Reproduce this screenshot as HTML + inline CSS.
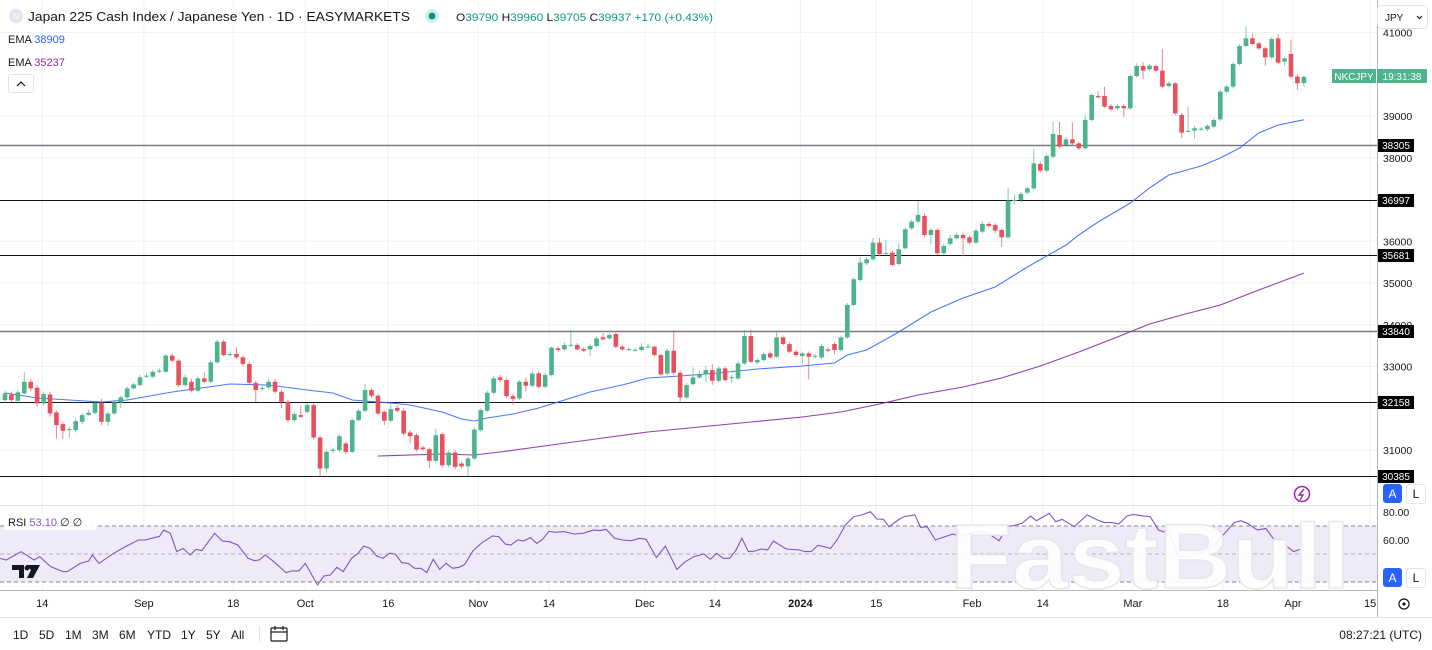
<!DOCTYPE html>
<html><head><meta charset="utf-8"><style>
html,body{margin:0;padding:0;background:#fff;width:1432px;height:650px;overflow:hidden;font-family:"Liberation Sans",sans-serif;}
svg{display:block}
text{font-family:"Liberation Sans",sans-serif}
</style></head><body>
<svg id="chart" width="1432" height="650" viewBox="0 0 1432 650" xmlns="http://www.w3.org/2000/svg">
<rect x="0" y="0" width="1432" height="650" fill="#ffffff"/>
<g id="grid"></g>
<g id="rsiPanel"></g>
<text x="950" y="588" font-size="92" font-weight="bold" textLength="400" lengthAdjust="spacingAndGlyphs" fill="#ffffff" stroke="#e6e6ea" stroke-width="1.5" opacity="0.92">FastBull</text>
<g id="levels"></g>
<g id="emas"></g>
<g id="candles"></g>
<g id="axes"></g>
<g id="ui">
  <circle cx="16" cy="16" r="7" fill="#e0e3eb"/>
  <text x="16" y="19.5" font-size="9" fill="#fff" text-anchor="middle">N</text>
  <text x="28" y="21" font-size="13" fill="#131722" textLength="382" lengthAdjust="spacingAndGlyphs">Japan 225 Cash Index / Japanese Yen · 1D · EASYMARKETS</text>
  <circle cx="432" cy="16" r="7" fill="#d6f0ea"/>
  <circle cx="432" cy="16" r="3.5" fill="#089981"/>
  <text x="456" y="21" font-size="11" fill="#089981" textLength="257" lengthAdjust="spacingAndGlyphs"><tspan fill="#131722">O</tspan>39790 <tspan fill="#131722">H</tspan>39960 <tspan fill="#131722">L</tspan>39705 <tspan fill="#131722">C</tspan>39937 +170 (+0.43%)</text>
  <text x="8" y="43" font-size="11" fill="#131722">EMA <tspan fill="#2962ff">38909</tspan></text>
  <text x="8" y="66" font-size="11" fill="#131722">EMA <tspan fill="#9c27b0">35237</tspan></text>
  <rect x="8.5" y="74.5" width="25" height="18" rx="2" fill="#fff" stroke="#e0e3eb"/>
  <path d="M17 86 L21 82 L25 86" fill="none" stroke="#131722" stroke-width="1.2"/>
  <rect x="1377.5" y="5.5" width="50" height="23" rx="4" fill="#fff" stroke="#e0e3eb"/>
  <text x="1385" y="21" font-size="10" fill="#131722">JPY</text>
  <path d="M1417 16 L1419.5 18.5 L1422 16" fill="none" stroke="#131722" stroke-width="1.2"/>
  <rect x="1332" y="69" width="44" height="14" fill="#4cb38a"/>
  <text x="1354" y="80" font-size="10" fill="#fff" text-anchor="middle">NKCJPY</text>
  <rect x="1377" y="69" width="50" height="14" fill="#4cb38a"/>
  <text x="1402" y="80" font-size="10" fill="#fff" text-anchor="middle">19:31:38</text>
  <circle cx="1302" cy="494" r="7.5" fill="none" stroke="#9c27b0" stroke-width="1.5"/>
  <path d="M1304 489 L1299 495 L1303 495 L1300 500" fill="none" stroke="#9c27b0" stroke-width="1.4"/>
  <rect x="1383" y="484" width="19" height="19" rx="3" fill="#2962ff"/>
  <text x="1392.5" y="498" font-size="12" fill="#fff" text-anchor="middle">A</text>
  <rect x="1406.5" y="484.5" width="19" height="19" rx="3" fill="#fff" stroke="#e0e3eb"/>
  <text x="1416" y="498" font-size="12" fill="#131722" text-anchor="middle">L</text>
  <rect x="1383" y="568" width="19" height="19" rx="3" fill="#2962ff"/>
  <text x="1392.5" y="582" font-size="12" fill="#fff" text-anchor="middle">A</text>
  <rect x="1406.5" y="568.5" width="19" height="19" rx="3" fill="#fff" stroke="#e0e3eb"/>
  <text x="1416" y="582" font-size="12" fill="#131722" text-anchor="middle">L</text>
  <rect x="4" y="513" width="92" height="17" fill="#ffffff" opacity="0.85"/>
  <text x="8" y="526" font-size="11" fill="#131722">RSI <tspan fill="#7e57c2">53.10</tspan> <tspan fill="#131722">∅ ∅</tspan></text>
  <path d="M12 565 H24 V578 H19 V570 H12 Z M26 565 H40 L33 578 H27 L31 570 Z" fill="#131722"/>
  <circle cx="27" cy="568" r="2.5" fill="#131722"/>
  <line x1="0" y1="617.5" x2="1432" y2="617.5" stroke="#e0e3eb"/>
  <g font-size="12" fill="#131722">
    <text x="13" y="639">1D</text>
    <text x="39" y="639">5D</text>
    <text x="65" y="639">1M</text>
    <text x="92" y="639">3M</text>
    <text x="119" y="639">6M</text>
    <text x="147" y="639">YTD</text>
    <text x="181" y="639">1Y</text>
    <text x="206" y="639">5Y</text>
    <text x="231" y="639">All</text>
  </g>
  <line x1="259.5" y1="626" x2="259.5" y2="642" stroke="#e0e3eb"/>
  <g fill="none" stroke="#131722" stroke-width="1.2">
    <rect x="271" y="628" width="16" height="13" rx="1"/>
    <line x1="271" y1="632" x2="287" y2="632"/>
    <line x1="275" y1="626" x2="275" y2="630"/>
    <line x1="283" y1="626" x2="283" y2="630"/>
  </g>
  <text x="1422" y="639" font-size="12" fill="#131722" text-anchor="end">08:27:21 (UTC)</text>
  <circle cx="1404" cy="604" r="5" fill="none" stroke="#131722" stroke-width="1.2"/>
  <circle cx="1404" cy="604" r="1.6" fill="#131722"/>
</g>
</svg>
<script>
// ---------- DATA ----------
const opens=[32195,32330,32180,32355,32635,32490,32115,32330,31900,31620,31490,31475,31675,31835,31890,32130,31675,31875,32140,32260,32475,32555,32770,32755,32875,32875,33260,33140,32555,32635,32420,32715,32635,33100,33595,33300,33300,33220,33060,32610,32475,32500,32635,32395,32155,31715,31835,31915,32075,31300,30555,30980,30995,31155,30955,31715,31940,32435,32300,31915,31700,32010,31940,31420,31355,31060,31020,30740,31380,30635,30940,30675,30610,30795,31475,31940,32370,32740,32675,32290,32235,32635,32540,32835,32515,32795,33434,33410,33514,33514,33418,33410,33490,33698,33674,33778,33474,33410,33394,33394,33474,33474,33274,32834,33378,32850,32258,32578,32738,32810,32914,32658,32954,32738,32714,33074,33730,33098,33154,33314,33234,33698,33538,33354,33250,33314,33250,33218,33410,33538,33394,33698,34475,35074,35473,35568,35967,35712,35728,35457,35832,36311,36470,36606,36151,36271,35712,35936,36071,36151,36095,35967,36231,36415,36390,36271,36095,36985,36989,37164,37268,37850,37691,38026,38545,38306,38441,38345,38226,38906,39480,39480,39240,39184,39240,39184,39958,40198,40118,40198,40086,39719,39783,39025,38640,38650,38690,38682,38746,38921,39583,39703,40246,40677,40860,40740,40621,40405,40860,40302,40485,39942,39790];
const closes=[32355,32195,32380,32635,32475,32115,32340,31875,31595,31460,31500,31690,31835,31890,32130,31675,31875,32140,32260,32475,32570,32740,32780,32875,32900,33260,33140,32555,32740,32420,32715,32635,33100,33595,33275,33300,33220,33060,32610,32435,32480,32635,32395,32155,31715,31860,31795,32075,31300,30555,30955,31010,31330,30955,31715,31940,32435,32300,31875,31700,31980,31940,31395,31330,31010,31020,30740,31355,30635,30940,30595,30610,30795,31490,31955,32370,32715,32675,32290,32220,32635,32540,32835,32515,32795,33450,33394,33514,33520,33410,33378,33490,33674,33650,33754,33474,33410,33415,33400,33474,33480,33274,32810,33378,32850,32258,32554,32738,32818,32914,32658,32954,32674,32745,33074,33730,33114,33154,33298,33218,33698,33538,33354,33274,33314,33234,33255,33490,33378,33394,33698,34475,35090,35489,35568,35967,35696,35718,35433,35808,36287,36470,36630,36151,36271,35712,35888,36071,36151,36071,35967,36255,36415,36366,36255,36095,36973,36989,37133,37268,37866,37691,38042,38569,38265,38441,38345,38226,38906,39503,39448,39224,39160,39240,39184,39958,40198,40086,40206,40086,39703,39783,39065,38602,38645,38706,38695,38762,38906,39583,39703,40246,40677,40860,40725,40621,40405,40844,40278,40381,39942,39783,39937];
const highs=[32420,32400,32430,32860,32700,32560,32400,32400,31950,31680,31560,31750,31880,31960,32180,32230,31920,32200,32300,32520,32620,32800,32840,32920,32960,33300,33300,33180,32800,32700,32760,32860,33150,33640,33640,33360,33460,33260,33120,32660,32540,32700,32700,32440,32200,31920,32060,32130,32120,31350,31000,31060,31380,31200,31760,31990,32580,32490,32340,31950,32120,32070,32000,31480,31400,31100,31060,31510,31420,31000,31000,30720,30840,31540,32000,32420,32780,32800,32720,32340,32680,32730,32890,32880,32850,33480,33480,33580,33880,33560,33460,33540,33720,33800,33800,33820,33520,33460,33440,33560,33540,33500,33300,33420,33870,32900,32600,32980,32900,33010,33060,33000,33000,32800,33120,33880,33880,33200,33340,33360,33870,33740,33580,33400,33360,33360,33300,33540,33460,33580,33740,34520,35130,35620,35620,36080,36080,36040,35770,35950,36330,36520,36960,36660,36310,36320,35940,36160,36200,36200,36140,36310,36470,36460,36430,36310,37270,37120,37180,37310,38200,37900,38090,38860,38860,38500,38850,38380,39020,39550,39590,39700,39290,39280,39290,40000,40260,40290,40250,40230,40610,39830,39820,39070,39210,38760,38740,38810,38960,39620,39740,40290,40720,41140,40980,40780,40660,40890,40960,40420,40830,40000,39960];
const lows=[32130,32150,32100,32330,32420,32040,32060,31800,31280,31260,31300,31420,31620,31830,31850,31600,31580,31840,32000,32230,32450,32520,32720,32720,32840,32840,33100,32500,32520,32380,32390,32600,32600,33060,33240,33240,33180,33000,32570,32150,32420,32450,32360,32000,31660,31680,31760,31880,31250,30360,30460,30920,30960,30900,30920,31680,31900,32250,31830,31600,31660,31900,31350,31160,30960,30980,30560,30700,30580,30580,30540,30560,30380,30760,31430,31900,32330,32620,32240,32080,32200,32400,32500,32480,32480,32760,33350,33360,33470,33380,33340,33260,33460,33620,33640,33440,33370,33370,33360,33360,33440,33240,32780,32790,32800,32160,32220,32540,32700,32630,32560,32620,32640,32600,32680,33040,33080,33060,33120,33180,33200,33500,33320,33230,33060,32690,33200,33180,33340,33300,33360,33660,34440,35030,35430,35530,35650,35680,35390,35420,35800,36270,36430,36100,35920,35670,35670,35890,36040,35640,35930,35930,36190,36330,36200,35860,36060,36880,36940,37120,37230,37650,37650,37990,38230,38270,38300,38180,38190,38870,39420,39190,39110,39140,38980,39140,39920,39880,40080,40040,39660,39680,39020,38470,38600,38460,38650,38640,38710,38880,39540,39660,40210,40640,40690,40580,40200,40370,40240,40200,39900,39630,39705];
const emaFastIdx=[0,5,15,19,26,35,41,47,51,54,60,63,68,71,73,75,79,83,86,91,96,100,105,111,117,124,129,131,134,139,144,149,154,159,165,167,170,175,178,181,186,189,192,195,198,202];
const emaFastVals=[32366,32246,32150,32198,32390,32581,32557,32438,32366,32198,32126,32078,31911,31743,31695,31767,31863,32007,32150,32390,32558,32725,32773,32845,32941,33013,33085,33276,33396,33827,34306,34641,34905,35384,35911,36150,36461,36916,37276,37587,37803,37994,38234,38593,38784,38909];
const emaSlowIdx=[58,68,73,77,85,93,100,108,116,124,130,136,142,149,155,161,167,173,178,183,189,195,202];
const emaSlowVals=[30857,30905,30881,30953,31120,31288,31432,31552,31671,31791,31911,32102,32318,32510,32725,33013,33348,33707,34018,34234,34474,34833,35237];
const rsiIdx=[-0.8,0.2,2.5,4.5,5.4,7.1,9.0,9.7,11.7,13.0,13.6,14.6,16.9,18.9,20.8,21.8,23.4,24.0,24.7,25.7,26.7,27.7,28.8,29.7,30.6,32.6,33.8,34.9,36.2,37.8,38.8,39.5,40.5,41.8,43.7,44.7,45.7,46.7,48.6,49.6,50.6,51.6,52.6,53.9,54.9,55.8,56.8,57.8,58.8,59.8,60.7,61.7,62.7,63.7,64.7,65.6,66.6,67.6,68.6,69.6,70.6,71.5,72.8,74.2,75.8,76.8,77.8,78.7,79.7,80.7,81.7,82.7,83.6,84.6,85.6,86.9,88.5,89.9,91.5,92.5,93.5,94.8,96.1,97.4,98.7,99.7,101.3,102.7,104.5,105.8,107.1,108.7,109.7,110.7,111.7,112.7,113.7,114.6,115.6,116.6,117.6,118.6,119.5,121.5,123.5,124.4,125.4,126.4,127.4,128.4,129.4,130.7,132.0,133.3,134.6,135.6,136.6,137.5,138.9,139.8,141.5,142.4,143.4,144.7,147.4,148.7,150.3,151.6,152.9,154.6,155.9,157.2,158.2,159.5,160.4,162.4,163.4,164.4,166.3,168.3,169.9,170.9,172.2,173.2,174.5,175.5,177.1,178.1,179.4,181.1,182.4,183.7,185.0,186.6,188.3,189.9,191.2,192.2,193.2,194.8,196.1,197.4,198.4,199.4,200.4,201.4];
const rsiVals=[46.9,45.7,51.7,45.7,48.1,41.0,37.4,37.4,43.3,45.0,49.3,43.3,50.5,55.7,60.0,60.0,61.9,62.4,67.1,64.8,51.7,54.0,49.3,53.3,52.4,64.8,59.3,58.8,56.4,46.9,45.2,45.7,49.3,44.5,36.7,37.9,37.9,43.3,27.9,34.3,35.0,40.5,37.4,46.9,50.5,55.7,54.0,48.6,46.9,50.5,50.0,43.8,43.3,39.8,39.8,36.7,46.2,39.0,43.3,39.8,40.5,42.6,52.4,58.1,62.9,62.4,57.1,56.4,60.0,59.3,61.7,57.6,60.5,66.2,65.5,66.0,64.3,64.8,67.1,66.7,67.6,61.2,60.0,59.5,61.2,60.5,47.5,55.7,39.0,44.5,48.1,50.0,46.2,50.5,46.9,46.9,52.9,61.2,51.7,52.1,53.6,52.9,59.3,53.6,52.9,51.7,51.7,56.2,55.2,54.0,60.0,70.7,76.7,77.9,80.2,75.0,74.8,69.5,74.3,76.7,77.9,69.0,69.5,60.0,64.3,62.4,64.8,66.0,64.8,59.5,69.5,70.7,71.9,77.1,73.8,79.0,73.1,74.8,69.5,77.9,74.3,72.6,72.4,71.4,77.1,78.3,77.1,76.7,67.1,64.8,48.6,47.6,50.0,51.7,57.6,66.0,72.4,73.8,71.9,67.1,68.3,60.0,60.5,55.2,51.7,53.3];
const priceTicks=[41000,39000,38000,36000,35000,34000,33000,31000];
const levelValues=[38305,36997,35681,33840,32158,30385];
const rsiTicks=[80,60];
const dateLabels=["14","Sep","18","Oct","16","Nov","14","Dec","14","2024","15","Feb","14","Mar","18","Apr","15"];
const dateIdx=[5.8,21.6,35.5,46.7,59.6,73.6,84.6,99.5,110.4,123.7,135.5,150.4,161.4,175.4,189.4,200.3,212.3];

// ---------- AXES ----------
const NS="http://www.w3.org/2000/svg";
const PLOT_R=1377;
function xOf(i){return 5+i*6.43;}
function yOf(p){return 116+(39000-p)*0.04175;}
function yRsi(r){return 554-(r-50)*1.4;}
function mk(tag,attrs,parent){const e=document.createElementNS(NS,tag);for(const k in attrs)e.setAttribute(k,attrs[k]);parent.appendChild(e);return e;}
const grid=document.getElementById('grid'),axes=document.getElementById('axes'),levels=document.getElementById('levels'),emas=document.getElementById('emas'),cg=document.getElementById('candles'),rsiG=document.getElementById('rsiPanel');

dateLabels.forEach((lab,k)=>{
  const x=xOf(dateIdx[k]);
  if(x<PLOT_R){const l=mk('line',{x1:x,y1:0,x2:x,y2:590,stroke:'#eef1f8'},grid);
  
  }
  const t=mk('text',{x:x,y:607,'font-size':11,fill:'#131722','text-anchor':'middle','font-weight':lab==='2024'?'bold':'normal'},axes);
  t.textContent=lab;
  
  
});
priceTicks.forEach(p=>{
  const y=yOf(p);
  const l=mk('line',{x1:0,y1:y,x2:PLOT_R,y2:y,stroke:'#eef1f8'},grid);
  
  
  const t=mk('text',{x:1383,y:y+4,'font-size':10.5,fill:'#131722'},axes);
  t.textContent=String(p);
  
  
});
{
  const band=mk('rect',{x:0,y:yRsi(70),width:PLOT_R,height:yRsi(30)-yRsi(70),fill:'#efeaf8'},rsiG);
  
  
  [70,50,30].forEach(v=>{
    const l=mk('line',{x1:0,y1:yRsi(v),x2:PLOT_R,y2:yRsi(v),stroke:'#787b86','stroke-dasharray':'4 3','stroke-opacity':v===50?0.5:0.9},rsiG);
    
    
  });
  rsiTicks.forEach(v=>{
    const t=mk('text',{x:1383,y:yRsi(v)+4,'font-size':10.5,fill:'#131722'},axes);
    t.textContent=v.toFixed(2);
    
    
  });
  let d='';
  rsiIdx.forEach((ix,k)=>{d+=(k?'L':'M')+xOf(ix).toFixed(1)+' '+yRsi(rsiVals[k]).toFixed(1);});
  const pl=mk('path',{d:d,fill:'none',stroke:'#7e57c2','stroke-width':1.1},rsiG);
  
  
}
[[0,505.5,PLOT_R,505.5,'#e0e3eb'],[0,590.5,PLOT_R+1,590.5,'#b2b5be'],[PLOT_R+0.5,0,PLOT_R+0.5,617,'#b2b5be']].forEach(a=>{
  const l=mk('line',{x1:a[0],y1:a[1],x2:a[2],y2:a[3],stroke:a[4]},axes);
  
  
});
levelValues.forEach((v,k)=>{
  const y=Math.round(yOf(v))+0.5;
  const gray=(v===38305||v===33840);
  const l=mk('line',{x1:0,y1:y,x2:PLOT_R,y2:y,stroke:gray?'#787b86':'#131722','stroke-width':gray?1.6:1},levels);
  
  
  const r=mk('rect',{x:1378,y:y-6.5,width:36,height:13,fill:'#000'},levels);
  
  
  const t=mk('text',{x:1396,y:y+3.5,'font-size':10,fill:'#fff','text-anchor':'middle'},levels);
  t.textContent=String(v);
  
  
});
function emaPath(ix,vals){let d='';ix.forEach((i,k)=>{d+=(k?'L':'M')+Math.max(0,xOf(i)).toFixed(1)+' '+yOf(vals[k]).toFixed(1);});return d;}
const ef=mk('path',{d:emaPath(emaFastIdx,emaFastVals),fill:'none',stroke:'#2962ff','stroke-width':1.1,'stroke-opacity':0.85},emas);


const es=mk('path',{d:emaPath(emaSlowIdx,emaSlowVals),fill:'none',stroke:'#7b1fa2','stroke-width':1.1,'stroke-opacity':0.85},emas);


closes.forEach((c,i)=>{
  const o=opens[i],up=c>=o,col=up?'#4cb38a':'#e9505e',x=xOf(i);
  const w=mk('line',{x1:x,y1:yOf(highs[i]),x2:x,y2:yOf(lows[i]),stroke:col,'stroke-width':1,'stroke-opacity':0.7},cg);
  
  
  const top=yOf(Math.max(o,c)),bot=yOf(Math.min(o,c));
  const b=mk('rect',{x:x-2.3,y:top,width:4.6,height:Math.max(1,bot-top),fill:col},cg);
  
  
});
</script>
</body></html>
